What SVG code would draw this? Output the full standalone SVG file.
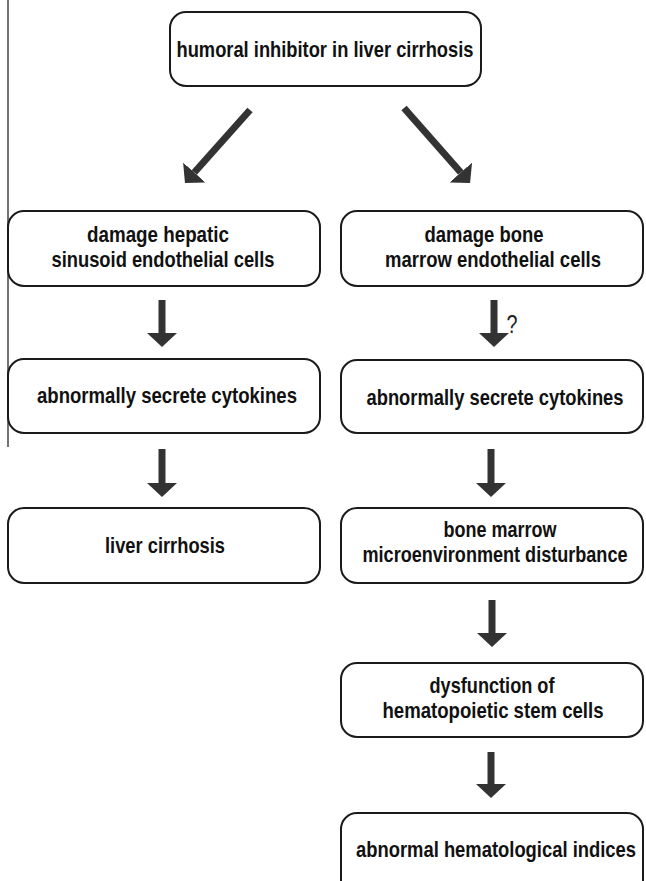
<svg xmlns="http://www.w3.org/2000/svg" width="646" height="881" viewBox="0 0 646 881">
<style>
.box{fill:#fff;stroke:#1a1a1a;stroke-width:2}
.t{font-family:"Liberation Sans Narrow","Arial Narrow","Liberation Sans",Arial,sans-serif;font-weight:bold;font-size:22px;fill:#111;text-anchor:middle}
.arr{stroke:#333;stroke-width:7;fill:none}
</style>
<defs>
<marker id="ah" markerUnits="userSpaceOnUse" viewBox="0 0 14 30" refX="0" refY="15" markerWidth="14" markerHeight="30" orient="auto">
<path d="M0,0 L14,15 L0,30 Z" fill="#333"/>
</marker>
</defs>
<rect width="646" height="881" fill="#fff"/>
<line x1="8" y1="0" x2="8" y2="447" stroke="#444" stroke-width="1.5"/>

<g id="n-top">
<rect class="box" x="170" y="12" width="311" height="74" rx="16"/>
<text class="t" x="325" y="57" font-size="23" textLength="297" lengthAdjust="spacingAndGlyphs">humoral inhibitor in liver cirrhosis</text>
</g>
<g id="n-l1">
<rect class="box" x="8" y="211" width="312" height="75" rx="16"/>
<text class="t" x="158" y="242" textLength="142" lengthAdjust="spacingAndGlyphs">damage hepatic</text>
<text class="t" x="163" y="267" textLength="223" lengthAdjust="spacingAndGlyphs">sinusoid endothelial cells</text>
</g>
<g id="n-r1">
<rect class="box" x="341" y="211" width="302" height="75" rx="16"/>
<text class="t" x="484" y="242" textLength="119" lengthAdjust="spacingAndGlyphs">damage bone</text>
<text class="t" x="493" y="267" textLength="216" lengthAdjust="spacingAndGlyphs">marrow endothelial cells</text>
</g>
<g id="n-l2">
<rect class="box" x="8" y="359" width="312" height="74" rx="16"/>
<text class="t" x="167" y="403" textLength="260" lengthAdjust="spacingAndGlyphs">abnormally secrete cytokines</text>
</g>
<g id="n-r2">
<rect class="box" x="341" y="360" width="302" height="73" rx="16"/>
<text class="t" x="495" y="405" textLength="257" lengthAdjust="spacingAndGlyphs">abnormally secrete cytokines</text>
</g>
<g id="n-l3">
<rect class="box" x="8" y="508" width="312" height="75" rx="16"/>
<text class="t" x="165" y="553" textLength="120" lengthAdjust="spacingAndGlyphs">liver cirrhosis</text>
</g>
<g id="n-r3">
<rect class="box" x="341" y="508" width="302" height="75" rx="16"/>
<text class="t" x="500" y="537" textLength="113" lengthAdjust="spacingAndGlyphs">bone marrow</text>
<text class="t" x="495" y="562" textLength="265" lengthAdjust="spacingAndGlyphs">microenvironment disturbance</text>
</g>
<g id="n-r4">
<rect class="box" x="341" y="663" width="302" height="74" rx="16"/>
<text class="t" x="492" y="693" textLength="125" lengthAdjust="spacingAndGlyphs">dysfunction of</text>
<text class="t" x="493" y="718" textLength="221" lengthAdjust="spacingAndGlyphs">hematopoietic stem cells</text>
</g>
<g id="n-r5">
<rect class="box" x="341" y="813" width="302" height="90" rx="16"/>
<text class="t" x="496" y="857" textLength="280" lengthAdjust="spacingAndGlyphs">abnormal hematological indices</text>
</g>

<g id="connectors">
<line class="arr" x1="250" y1="110" x2="194.3" y2="172.5" marker-end="url(#ah)"/>
<line class="arr" x1="404" y1="108" x2="460.8" y2="172.5" marker-end="url(#ah)"/>
<line class="arr" x1="162" y1="300" x2="162" y2="333" marker-end="url(#ah)"/>
<line class="arr" x1="494" y1="300" x2="494" y2="333" marker-end="url(#ah)"/>
<line class="arr" x1="162" y1="449" x2="162" y2="483" marker-end="url(#ah)"/>
<line class="arr" x1="491" y1="449" x2="491" y2="483" marker-end="url(#ah)"/>
<line class="arr" x1="492" y1="600" x2="492" y2="633" marker-end="url(#ah)"/>
<line class="arr" x1="491" y1="752" x2="491" y2="784" marker-end="url(#ah)"/>
<text x="512" y="333" font-family="'Liberation Sans Narrow','Liberation Sans',Arial,sans-serif" font-size="25" fill="#222" text-anchor="middle" textLength="11" lengthAdjust="spacingAndGlyphs">?</text>
</g>
</svg>
